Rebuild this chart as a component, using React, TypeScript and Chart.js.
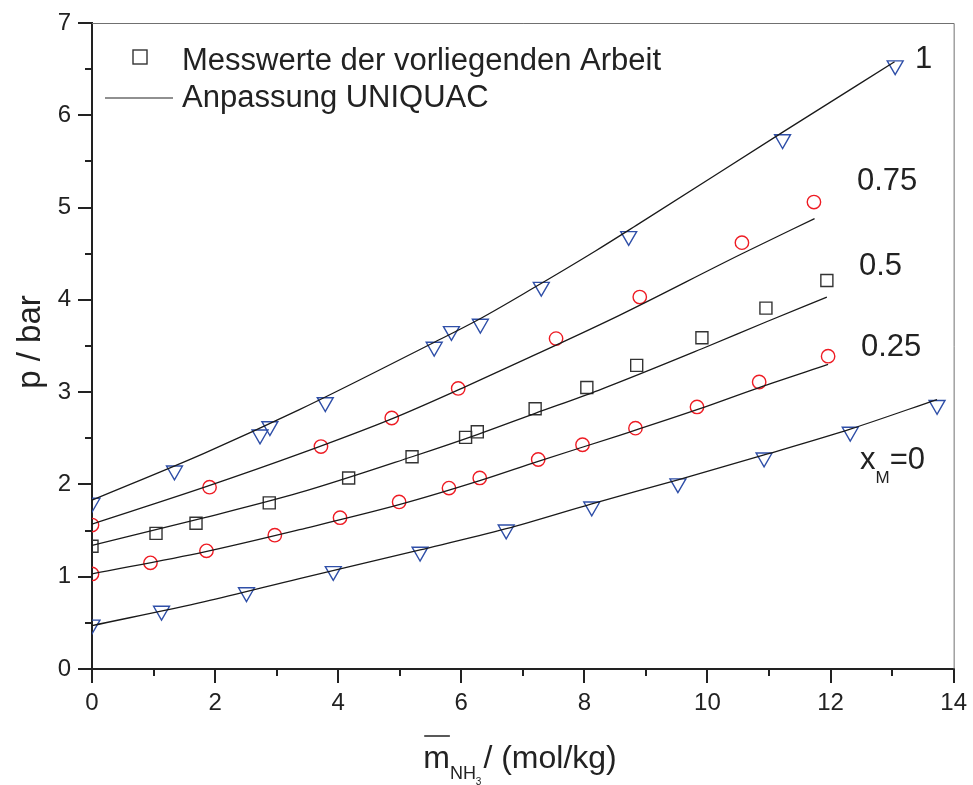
import React, { useEffect, useRef } from 'react';
import { Chart, registerables } from 'chart.js';

Chart.register(...registerables);

const FONT = '"Liberation Sans", Arial, Helvetica, sans-serif';

// ---- measured points (m in mol/kg, p in bar) ----
const m_x1 = [0, 1.34, 2.73, 2.89, 3.79, 5.56, 5.84, 6.31, 7.30, 8.72, 11.22, 13.05];
const p_x1 = [1.80, 2.15, 2.54, 2.63, 2.89, 3.49, 3.66, 3.74, 4.14, 4.69, 5.74, 6.54];

const m_x075 = [0, 1.91, 3.72, 4.87, 5.95, 7.54, 8.90, 10.56, 11.73];
const p_x075 = [1.56, 1.97, 2.41, 2.72, 3.04, 3.58, 4.03, 4.62, 5.06];

const m_x05 = [0, 1.04, 1.69, 2.88, 4.17, 5.20, 6.07, 6.26, 7.20, 8.04, 8.85, 9.91, 10.95, 11.94];
const p_x05 = [1.33, 1.47, 1.58, 1.80, 2.07, 2.30, 2.51, 2.57, 2.82, 3.05, 3.29, 3.59, 3.91, 4.21];

const m_x025 = [0, 0.95, 1.86, 2.97, 4.03, 4.99, 5.80, 6.30, 7.25, 7.97, 8.83, 9.83, 10.84, 11.96];
const p_x025 = [1.03, 1.15, 1.28, 1.45, 1.64, 1.81, 1.96, 2.07, 2.27, 2.43, 2.61, 2.84, 3.11, 3.39];

const m_x0 = [0, 1.13, 2.51, 3.92, 5.33, 6.73, 8.12, 9.52, 10.92, 12.32, 13.73];
const p_x0 = [0.48, 0.63, 0.83, 1.06, 1.27, 1.51, 1.76, 2.01, 2.29, 2.57, 2.86];

// ---- UNIQUAC fit curves ----
const fm_x1 = [0, 1.83, 3.37, 5.53, 6.29, 7.15, 8.18, 8.85, 11.23, 13.04];
const fp_x1 = [1.83, 2.34, 2.81, 3.53, 3.79, 4.12, 4.53, 4.81, 5.82, 6.58];

const fm_x075 = [0, 1.83, 3.37, 4.87, 6.07, 7.15, 8.56, 10.56, 11.74];
const fp_x075 = [1.57, 1.97, 2.33, 2.71, 3.06, 3.39, 3.83, 4.50, 4.88];

const fm_x05 = [0, 1.83, 3.37, 5.20, 6.26, 7.20, 8.23, 9.91, 10.95, 11.94];
const fp_x05 = [1.34, 1.64, 1.91, 2.30, 2.54, 2.77, 3.02, 3.47, 3.76, 4.03];

const fm_x025 = [0, 1.83, 3.37, 4.99, 6.30, 7.25, 8.56, 9.83, 10.84, 11.96];
const fp_x025 = [1.03, 1.27, 1.51, 1.78, 2.04, 2.25, 2.53, 2.81, 3.05, 3.30];

const fm_x0 = [0, 1.83, 3.37, 5.33, 6.73, 8.12, 9.52, 10.92, 12.32, 13.73];
const fp_x0 = [0.47, 0.73, 0.98, 1.29, 1.52, 1.79, 2.05, 2.32, 2.60, 2.92];

// ---- axes ----
const X_MIN = 0, X_MAX = 14, X_STEP = 2;
const Y_MIN = 0, Y_MAX = 7, Y_STEP = 1;
const X_MINOR = [1, 3, 5, 7, 9, 11, 13];
const Y_MINOR = [0.5, 1.5, 2.5, 3.5, 4.5, 5.5, 6.5];

const LEGEND_MARK = 'Messwerte der vorliegenden Arbeit';
const LEGEND_LINE = 'Anpassung UNIQUAC';
const Y_TITLE = 'p / bar';

const BLUE = '#2f4fa8';
const RED = '#ee1c24';
const GRAY = '#333333';
const INK = '#222222';

const pts = (xs: number[], ys: number[]) => xs.map((x, i) => ({ x, y: ys[i] }));

const decor = {
  id: 'decor',
  afterDraw(chart: any) {
    const { ctx, chartArea: a, scales } = chart;
    const x = scales.x, y = scales.y;
    ctx.save();
    // thin frame top/right
    ctx.strokeStyle = '#707070';
    ctx.lineWidth = 1;
    ctx.beginPath();
    ctx.moveTo(a.left, a.top + 0.5);
    ctx.lineTo(a.right + 0.5, a.top + 0.5);
    ctx.lineTo(a.right + 0.5, a.bottom);
    ctx.stroke();
    // minor ticks
    ctx.strokeStyle = INK;
    ctx.lineWidth = 2;
    ctx.beginPath();
    for (const v of X_MINOR) {
      const px = Math.round(x.getPixelForValue(v));
      ctx.moveTo(px, a.bottom);
      ctx.lineTo(px, a.bottom + 7);
    }
    for (const v of Y_MINOR) {
      const py = Math.round(y.getPixelForValue(v));
      ctx.moveTo(a.left - 7, py);
      ctx.lineTo(a.left, py);
    }
    ctx.stroke();

    ctx.fillStyle = INK;
    ctx.textBaseline = 'alphabetic';
    ctx.textAlign = 'left';
    // legend
    ctx.strokeStyle = GRAY;
    ctx.lineWidth = 1.4;
    ctx.strokeRect(133, 50, 14, 14);
    ctx.font = `31px ${FONT}`;
    ctx.fillText(LEGEND_MARK, 182, 70);
    ctx.strokeStyle = INK;
    ctx.lineWidth = 1.2;
    ctx.beginPath();
    ctx.moveTo(105, 98);
    ctx.lineTo(173, 98);
    ctx.stroke();
    ctx.fillText(LEGEND_LINE, 182, 107);

    // curve labels
    ctx.font = `31px ${FONT}`;
    ctx.fillText('1', 915, 68);
    ctx.fillText('0.75', 857, 190);
    ctx.fillText('0.5', 859, 275);
    ctx.fillText('0.25', 861, 356);
    ctx.fillText('x', 860, 469);
    const xw = ctx.measureText('x').width;
    ctx.font = `17px ${FONT}`;
    ctx.fillText('M', 860 + xw, 483);
    const mw = ctx.measureText('M').width;
    ctx.font = `31px ${FONT}`;
    ctx.fillText('=0', 860 + xw + mw, 469);

    // y title
    ctx.save();
    ctx.translate(31, 342);
    ctx.rotate(-Math.PI / 2);
    ctx.textAlign = 'center';
    ctx.textBaseline = 'middle';
    ctx.font = `33px ${FONT}`;
    ctx.fillText(Y_TITLE, 0, 0);
    ctx.restore();

    // x title: m-bar with subscript NH3, then / (mol/kg)
    const base = 768;
    ctx.font = `32px ${FONT}`;
    const wM = ctx.measureText('m').width;
    const wRest = ctx.measureText('/ (mol/kg)').width;
    ctx.font = `18px ${FONT}`;
    const wNH = ctx.measureText('NH').width;
    ctx.font = `10px ${FONT}`;
    const w3 = ctx.measureText('3').width;
    const total = wM + wNH + w3 + 2 + wRest;
    let cx = 520 - total / 2;
    ctx.font = `32px ${FONT}`;
    ctx.fillText('m', cx, base);
    ctx.lineWidth = 1.5;
    ctx.beginPath();
    ctx.moveTo(cx + 1, 736);
    ctx.lineTo(cx + wM, 736);
    ctx.stroke();
    cx += wM;
    ctx.font = `18px ${FONT}`;
    ctx.fillText('NH', cx, 779);
    cx += wNH;
    ctx.font = `10px ${FONT}`;
    ctx.fillText('3', cx, 785);
    cx += w3 + 2;
    ctx.font = `32px ${FONT}`;
    ctx.fillText('/ (mol/kg)', cx, base);
    ctx.restore();
  },
};

export default function App() {
  const ref = useRef<HTMLCanvasElement>(null);
  useEffect(() => {
    document.body.style.margin = '0';
    const canvas = ref.current!;
    const marker = (xs: number[], ys: number[], style: string, color: string, r: number, rot = 0) => ({
      data: pts(xs, ys),
      showLine: false,
      pointStyle: style,
      pointRadius: r,
      pointHoverRadius: r,
      pointBorderColor: color,
      pointBackgroundColor: 'rgba(0,0,0,0)',
      pointBorderWidth: 1.4,
      pointRotation: rot,
      borderColor: color,
      backgroundColor: 'rgba(0,0,0,0)',
      clip: 0,
    });
    const fit = (xs: number[], ys: number[]) => ({
      data: pts(xs, ys),
      showLine: true,
      borderColor: '#1a1a1a',
      borderWidth: 1.3,
      pointRadius: 0,
      pointHoverRadius: 0,
      fill: false,
      cubicInterpolationMode: 'monotone',
      clip: 0,
    });
    const chart = new Chart(canvas, {
      type: 'scatter',
      data: {
        datasets: [
          fit(fm_x1, fp_x1),
          fit(fm_x075, fp_x075),
          fit(fm_x05, fp_x05),
          fit(fm_x025, fp_x025),
          fit(fm_x0, fp_x0),
          marker(m_x1, p_x1, 'triangle', BLUE, 9.2, 180),
          marker(m_x075, p_x075, 'circle', RED, 6.7),
          marker(m_x05, p_x05, 'rect', GRAY, 8.5),
          marker(m_x025, p_x025, 'circle', RED, 6.7),
          marker(m_x0, p_x0, 'triangle', BLUE, 9.2, 180),
        ] as any,
      },
      options: {
        responsive: false,
        animation: false,
        layout: { padding: { top: 23, right: 17, left: 0, bottom: 0 } },
        plugins: { legend: { display: false }, tooltip: { enabled: false } },
        events: [],
        scales: {
          x: {
            type: 'linear',
            min: X_MIN,
            max: X_MAX,
            afterFit: (s: any) => { s.height = 116; },
            ticks: { stepSize: X_STEP, color: INK, padding: 6, font: { family: FONT, size: 24 } },
            grid: { drawOnChartArea: false, drawTicks: true, tickLength: 14, color: INK, lineWidth: 2 },
            border: { display: true, color: INK, width: 2 },
          },
          y: {
            type: 'linear',
            min: Y_MIN,
            max: Y_MAX,
            afterFit: (s: any) => { s.width = 92; },
            ticks: { stepSize: Y_STEP, color: INK, padding: 7, font: { family: FONT, size: 24 } },
            grid: { drawOnChartArea: false, drawTicks: true, tickLength: 14, color: INK, lineWidth: 2 },
            border: { display: true, color: INK, width: 2 },
          },
        },
      } as any,
      plugins: [decor],
    });
    return () => chart.destroy();
  }, []);
  return <canvas ref={ref} width={973} height={785} style={{ display: 'block' }} />;
}
